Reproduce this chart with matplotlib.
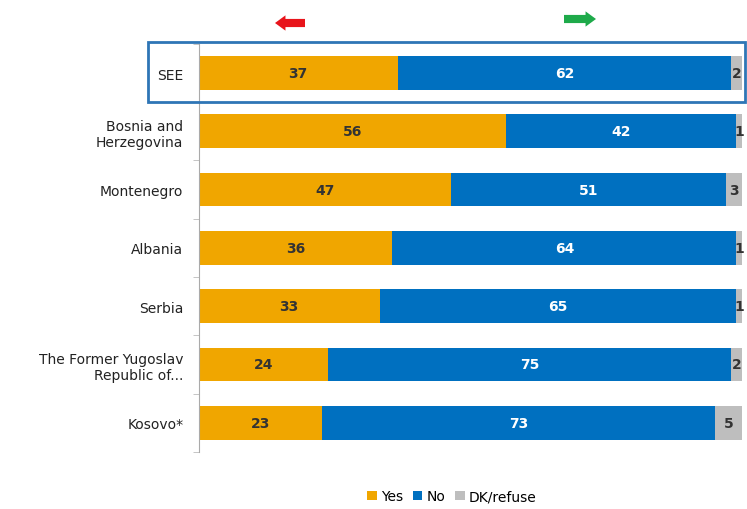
import numpy as np
import matplotlib.pyplot as plt
from matplotlib.patches import Rectangle, FancyArrow

categories = ['SEE', 'Bosnia and\nHerzegovina', 'Montenegro', 'Albania', 'Serbia',
              'The Former Yugoslav\nRepublic of...', 'Kosovo*']
yes = [37, 56, 47, 36, 33, 24, 23]
no = [62, 42, 51, 64, 65, 75, 73]
dk = [2, 1, 3, 1, 1, 2, 5]

c_yes = '#F0A600'
c_no = '#0070C0'
c_dk = '#BEBEBE'

# 100% stacked: each row scaled to its own total
tot = np.array(yes) + np.array(no) + np.array(dk)
p_yes = np.array(yes) / tot * 100
p_no = np.array(no) / tot * 100
p_dk = np.array(dk) / tot * 100

fig = plt.figure(figsize=(7.47, 5.10), dpi=100)
ax = fig.add_axes([0.266, 0.112, 0.727, 0.800])

y = np.arange(len(categories))
h = 0.58
ax.barh(y, p_yes, height=h, color=c_yes, label='Yes')
ax.barh(y, p_no, left=p_yes, height=h, color=c_no, label='No')
ax.barh(y, p_dk, left=p_yes + p_no, height=h, color=c_dk, label='DK/refuse')

for i in range(len(categories)):
    ax.text(p_yes[i] / 2, y[i], str(yes[i]), ha='center', va='center',
            fontsize=10, color='#333333', fontweight='semibold')
    ax.text(p_yes[i] + p_no[i] / 2, y[i], str(no[i]), ha='center', va='center',
            fontsize=10, color='white', fontweight='semibold')
    ax.text(p_yes[i] + p_no[i] + p_dk[i] / 2, y[i], str(dk[i]), ha='center',
            va='center', fontsize=10, color='#333333', fontweight='semibold')

ax.set_xlim(0, 100)
ax.set_ylim(len(categories) - 0.5, -0.5)
ax.set_yticks(y)
ax.set_yticklabels(categories, fontsize=10, color='#222222')
ax.set_yticks(np.arange(-0.5, len(categories)), minor=True)
ax.tick_params(axis='y', which='major', length=0, pad=11)
ax.tick_params(axis='y', which='minor', length=4, color='#BBBBBB')
ax.set_xticks([])
for s in ['top', 'right', 'bottom']:
    ax.spines[s].set_visible(False)
ax.spines['left'].set_color('#AAAAAA')
for lab in ax.get_yticklabels():
    lab.set_multialignment('right')

# box around SEE row
fig.patches.append(Rectangle((148 / 747, 1 - 103 / 510), (745 - 148) / 747, 60 / 510,
                             transform=fig.transFigure, fill=False,
                             edgecolor='#2E75B6', linewidth=2))

# direction arrows
fig.patches.append(FancyArrow(305 / 747, 1 - 24 / 510, -30 / 747, 0, width=0.016,
                              head_width=0.03, head_length=0.014,
                              length_includes_head=True, transform=fig.transFigure,
                              color='#E8141B', linewidth=0))
fig.patches.append(FancyArrow(564 / 747, 1 - 20 / 510, 32 / 747, 0, width=0.016,
                              head_width=0.03, head_length=0.014,
                              length_includes_head=True, transform=fig.transFigure,
                              color='#1EAA4A', linewidth=0))

fig.legend(loc='center', bbox_to_anchor=(0.605, 0.025), ncol=3, frameon=False,
           fontsize=10, handlelength=0.7, handleheight=0.7, handletextpad=0.3,
           columnspacing=0.7)

plt.savefig('out.png', dpi=100)
